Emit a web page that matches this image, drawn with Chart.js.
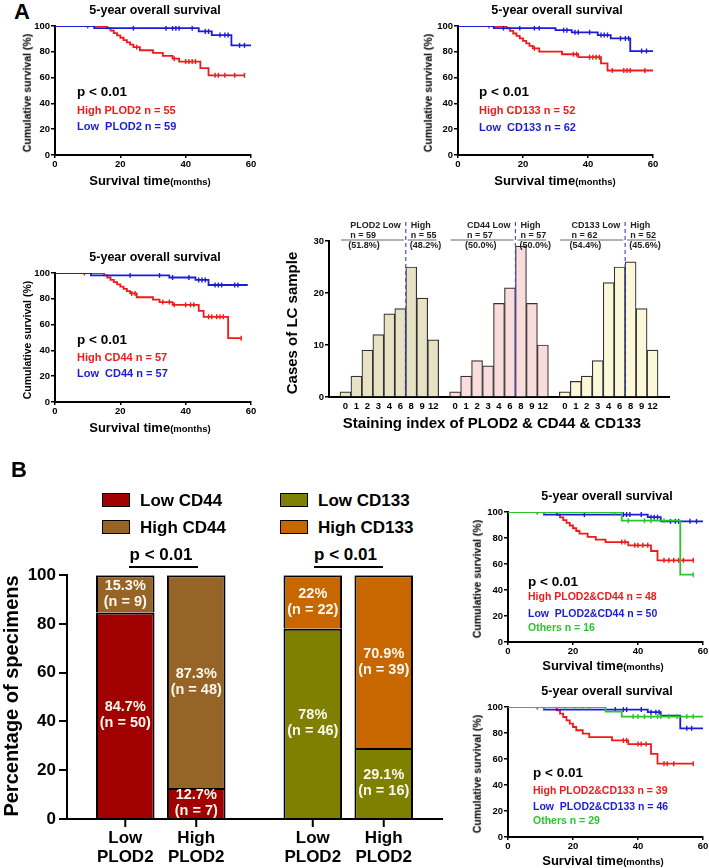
<!DOCTYPE html>
<html>
<head>
<meta charset="utf-8">
<script src="https://cdn.jsdelivr.net/npm/chart.js@4.4.1/dist/chart.umd.min.js"></script>
<style>
  body { margin: 0; background: #fff; }
  #page { position: relative; width: 709px; height: 868px; overflow: hidden; font-family: Arial, "Liberation Sans", sans-serif; }
  canvas { position: absolute; }
  .t { position: absolute; white-space: pre; font-weight: bold; line-height: 1; }
  .box { position: absolute; border: 1.5px solid #000; box-sizing: border-box; }
  .rule { position: absolute; height: 1.5px; background: #000; }
</style>
</head>
<body>
<div id="page"></div>
<script>
// ---- survival curves: event times (months) and survival (%) after each step, censor times
const plod2HighTime = [0, 16, 17, 18, 19, 20, 21, 22, 23, 24, 26, 30, 33, 36, 38, 44.5, 47, 58];
const plod2HighSurv = [100, 98.2, 96.4, 94.5, 92.7, 90.9, 89.1, 87.3, 85.5, 83.6, 81.2, 79.1, 76.9, 74.7, 72.4, 67.3, 61.8, 61.8];
const plod2HighCensor = [10, 25, 36.5, 40, 41, 42, 43, 49, 50, 52, 55, 58];
const plod2LowTime = [0, 12, 44, 48, 54, 60];
const plod2LowSurv = [100, 98.3, 95.8, 93.0, 85.0, 85.0];
const plod2LowCensor = [24, 34, 36, 37, 38, 42, 46, 47, 50.5, 52, 53, 56.5, 58];

const cd133HighTime = [0, 15, 16, 17, 18, 19, 20, 21, 22, 23, 25, 32, 37, 44, 46, 60];
const cd133HighSurv = [100, 98.1, 96.2, 94.2, 92.3, 90.4, 88.5, 86.5, 84.6, 82.7, 80.2, 78.1, 75.8, 71.1, 65.5, 65.5];
const cd133HighCensor = [9.5, 11, 23.5, 35.5, 36.5, 40.5, 41.5, 42.5, 43.5, 47.5, 51, 52, 53, 57.5];
const cd133LowTime = [0, 11, 30, 35, 43, 47, 53, 60];
const cd133LowSurv = [100, 98.4, 96.8, 95.1, 93.0, 90.4, 80.6, 80.6];
const cd133LowCensor = [14, 19, 23.5, 25, 32.5, 33.5, 36, 37, 40.5, 44, 45, 46, 50, 51.5, 52.5, 56.5, 58];

const cd44HighTime = [0, 15, 16, 17, 18, 19, 20, 21, 22, 23, 25, 30, 32, 36, 44, 45.5, 53, 57];
const cd44HighSurv = [100, 98.2, 96.5, 94.7, 93.0, 91.2, 89.5, 87.7, 86.0, 84.2, 81.2, 79.4, 77.5, 75.3, 70.6, 66.0, 49.5, 49.5];
const cd44HighCensor = [9, 11, 23.5, 24.5, 33, 35, 36.5, 40, 41.5, 42.5, 47, 48, 49.5, 50.5, 51.5, 57];
const cd44LowTime = [0, 11, 35, 43, 47, 59];
const cd44LowSurv = [100, 98.2, 96.5, 94.6, 90.7, 90.7];
const cd44LowCensor = [23, 32, 36, 41, 44, 45, 46, 49, 50, 51, 55, 56];

const plod2cd44HighTime = [0, 15, 16, 17, 18, 19, 20, 21, 22, 24.5, 27, 30, 37, 44, 46, 57];
const plod2cd44HighSurv = [100, 97.9, 95.8, 93.8, 91.7, 89.6, 87.5, 85.4, 83.3, 80.8, 78.8, 76.9, 74.4, 70.0, 62.8, 62.8];
const plod2cd44HighCensor = [9, 35, 36, 39, 40, 41.5, 43, 48, 49.5, 51, 52.5, 54, 57];
const plod2cd44LowTime = [0, 11, 43, 47, 60];
const plod2cd44LowSurv = [100, 98, 96, 92.8, 92.8];
const plod2cd44LowCensor = [23.5, 35.5, 36.5, 37.5, 41, 44, 45, 46, 50, 51.5, 52.5, 56, 58];
const plod2cd44OtherTime = [0, 35, 53, 57];
const plod2cd44OtherSurv = [100, 93.3, 51.8, 51.8];
const plod2cd44OtherCensor = [11, 32, 33, 37, 42, 44, 48, 57];

const plod2cd133HighTime = [0, 15, 16, 17, 18, 19, 20, 21, 23, 25, 32, 37, 44, 46, 57];
const plod2cd133HighSurv = [100, 97.4, 94.9, 92.3, 89.7, 87.2, 84.6, 82.1, 79.5, 76.9, 74.3, 71.5, 64.0, 56.4, 56.4];
const plod2cd133HighCensor = [9, 35.5, 36.5, 40, 41, 42.5, 48, 49, 51, 57];
const plod2cd133LowTime = [0, 11, 43, 47, 53, 60];
const plod2cd133LowSurv = [100, 98, 96, 93.4, 83.6, 83.6];
const plod2cd133LowCensor = [33, 35.5, 36.5, 41, 44, 45.5, 46.5, 55, 56.5];
const plod2cd133OtherTime = [0, 30, 35, 60];
const plod2cd133OtherSurv = [100, 96.5, 92.6, 92.6];
const plod2cd133OtherCensor = [11, 17.5, 20.5, 23, 25, 38.5, 40, 42, 44, 46, 47, 49.5, 52, 55, 57];

// ---- staining index histogram
const scoreLabels = ['0', '1', '2', '3', '4', '6', '8', '9', '12'];
const plod2Cases = [1, 4, 9, 12, 16, 17, 25, 19, 11];
const cd44Cases = [1, 4, 7, 6, 18, 21, 29, 18, 10];
const cd133Cases = [1, 3, 4, 7, 22, 25, 26, 17, 9];
const histNames = ['PLOD2', 'CD44', 'CD133'];
const highFrom = 6; // scores 8, 9, 12 count as high

// ---- stacked percentages (Low PLOD2, High PLOD2)
const plod2Levels = ['Low', 'High'];
const lowCD44Pct = [84.7, 12.7];
const highCD44Pct = [15.3, 87.3];
const lowCD44N = [50, 7];
const highCD44N = [9, 48];
const lowCD133Pct = [78, 29.1];
const highCD133Pct = [22, 70.9];
const lowCD133N = [46, 16];
const highCD133N = [22, 39];

const RED = '#ee1b1b', BLUE = '#1c1cd6', GREEN = '#2ec42e';
const FONT = 'Arial, "Liberation Sans", sans-serif';
Chart.defaults.font.family = FONT;
Chart.defaults.color = '#000';

const page = document.getElementById('page');

function addText(html, x, y, o) {
  o = o || {};
  const d = document.createElement('div');
  d.className = 't';
  d.innerHTML = html;
  d.style.left = x + 'px';
  d.style.top = y + 'px';
  d.style.fontSize = (o.size || 11) + 'px';
  d.style.color = o.color || '#000';
  let tr = 'translate(' + (o.align === 'left' ? '0' : '-50%') + ',-50%)';
  if (o.rot) tr += ' rotate(-90deg)';
  d.style.transform = tr;
  page.appendChild(d);
}

function addCanvas(left, top, w, h) {
  const cv = document.createElement('canvas');
  cv.width = w; cv.height = h;
  cv.style.left = left + 'px';
  cv.style.top = top + 'px';
  page.appendChild(cv);
  return cv;
}

function survAt(c, t) {
  let s = c.surv[0];
  c.time.forEach((tt, i) => { if (tt <= t) s = c.surv[i]; });
  return s;
}

// survival chart whose plot area is exactly `area`
function kmChart(area, curves) {
  const padL = 4, yW = 52, padT = 10, padR = 12, padB = 4, xH = 20;
  const cv = addCanvas(area.left - padL - yW, area.top - padT,
    area.right - area.left + padL + yW + padR, area.bottom - area.top + padT + padB + xH);
  const datasets = [];
  curves.forEach((c, k) => {
    datasets.push({
      data: c.time.map((t, i) => ({ x: t, y: c.surv[i] })),
      stepped: 'before', borderColor: c.color, borderWidth: 1.8,
      pointRadius: 0, fill: false, order: curves.length - k
    });
    datasets.push({
      data: c.censor.map(t => ({ x: t, y: survAt(c, t) })),
      showLine: false, pointStyle: 'line', pointRotation: 90, pointRadius: 2.5,
      pointBorderWidth: 1.4, pointBorderColor: c.color, pointBackgroundColor: c.color,
      borderColor: c.color, order: curves.length - k
    });
  });
  const tickFont = { size: 9.5, weight: 'bold', family: FONT };
  new Chart(cv, {
    type: 'line',
    data: { datasets },
    options: {
      responsive: false, animation: false,
      layout: { padding: { left: padL, top: padT, right: padR, bottom: padB } },
      plugins: { legend: { display: false }, tooltip: { enabled: false } },
      scales: {
        x: {
          type: 'linear', min: 0, max: 60,
          ticks: { stepSize: 20, font: tickFont, padding: 1, color: '#000' },
          grid: { drawOnChartArea: false, tickLength: 3, color: '#000', lineWidth: 1.5 },
          border: { color: '#000', width: 2 },
          afterFit: s => { s.height = xH; }
        },
        y: {
          min: 0, max: 100,
          ticks: { stepSize: 20, font: tickFont, padding: 1, color: '#000' },
          grid: { drawOnChartArea: false, tickLength: 4, color: '#000', lineWidth: 1.5 },
          border: { color: '#000', width: 2 },
          afterFit: s => { s.width = yW; }
        }
      }
    }
  });
}

function kmTexts(area, titleX, ytX, legendX, pY, legends, xtX, xtY) {
  addText('5-year overall survival', titleX, area.top - 16, { size: 12.5 });
  addText('Cumulative survival (%)', ytX, (area.top + area.bottom) / 2 + 2, { size: 10.5, rot: true });
  addText('p &lt; 0.01', legendX, pY, { size: 13.5, align: 'left' });
  legends.forEach(l => addText(l.text, legendX, l.y, { size: l.size || 11, color: l.color, align: 'left' }));
  addText('Survival time<span style="font-size:9.5px">(months)</span>', xtX, xtY, { size: 13 });
}

// ---------------- panel A
addText('A', 22, 12, { size: 22 });

const areaA1 = { left: 55, top: 26, right: 251, bottom: 155 };
kmChart(areaA1, [
  { time: plod2HighTime, surv: plod2HighSurv, censor: plod2HighCensor, color: RED },
  { time: plod2LowTime, surv: plod2LowSurv, censor: plod2LowCensor, color: BLUE }
]);
kmTexts(areaA1, 155, 27, 77, 91.5, [
  { text: 'High PLOD2 n = 55', y: 110, color: RED },
  { text: 'Low  PLOD2 n = 59', y: 126, color: BLUE }
], 150, 180);

const areaA2 = { left: 458, top: 26, right: 653, bottom: 155 };
kmChart(areaA2, [
  { time: cd133HighTime, surv: cd133HighSurv, censor: cd133HighCensor, color: RED },
  { time: cd133LowTime, surv: cd133LowSurv, censor: cd133LowCensor, color: BLUE }
]);
kmTexts(areaA2, 557, 428, 479, 91.5, [
  { text: 'High CD133 n = 52', y: 110, color: RED },
  { text: 'Low  CD133 n = 62', y: 126.5, color: BLUE }
], 555, 180);

const areaA3 = { left: 55, top: 273, right: 251, bottom: 402 };
kmChart(areaA3, [
  { time: cd44HighTime, surv: cd44HighSurv, censor: cd44HighCensor, color: RED },
  { time: cd44LowTime, surv: cd44LowSurv, censor: cd44LowCensor, color: BLUE }
]);
kmTexts(areaA3, 155, 27, 77, 340, [
  { text: 'High CD44 n = 57', y: 357, color: RED },
  { text: 'Low  CD44 n = 57', y: 373, color: BLUE }
], 150, 427);

// ---------------- histogram
(function () {
  const area = { left: 329, top: 241, right: 669, bottom: 397 };
  const padL = 4, yW = 26, padT = 22, padR = 6, padB = 4, xH = 16;
  const cv = addCanvas(area.left - padL - yW, area.top - padT,
    area.right - area.left + padL + yW + padR, area.bottom - area.top + padT + padB + xH);
  const groups = [plod2Cases, cd44Cases, cd133Cases];
  const fills = ['#e8e2c5', '#f9dcdc', '#fbf8da'];
  const labels = [''], data = [null], colors = ['#fff'];
  groups.forEach((g, gi) => {
    scoreLabels.forEach((s, i) => { labels.push(s); data.push(g[i]); colors.push(fills[gi]); });
    labels.push(''); data.push(null); colors.push('#fff');
  });
  const sum = a => a.reduce((p, v) => p + v, 0);

  const annot = {
    id: 'annot',
    afterDatasetsDraw(chart) {
      const ctx = chart.ctx, x = chart.scales.x, top = chart.chartArea.top, bottom = chart.chartArea.bottom;
      ctx.save();
      groups.forEach((g, gi) => {
        const s = 1 + gi * (scoreLabels.length + 1);
        const w = x.getPixelForValue(s + 1) - x.getPixelForValue(s);
        const gStart = x.getPixelForValue(s) - w / 2;
        const gEnd = x.getPixelForValue(s + scoreLabels.length - 1) + w / 2;
        const cut = x.getPixelForValue(s + highFrom) - w / 2;
        // dashed cutoff
        ctx.strokeStyle = '#4a4ad8'; ctx.lineWidth = 1.2; ctx.setLineDash([4, 3]);
        ctx.beginPath(); ctx.moveTo(cut, top - 19); ctx.lineTo(cut, bottom); ctx.stroke();
        ctx.setLineDash([]);
        // rule under n
        ctx.strokeStyle = '#666'; ctx.lineWidth = 1;
        ctx.beginPath(); ctx.moveTo(gStart + 1, top - 1); ctx.lineTo(cut - 2, top - 1);
        ctx.moveTo(cut + 2, top - 1); ctx.lineTo(gEnd - 2, top - 1); ctx.stroke();
        // texts
        const total = sum(plod2Cases);
        const lowN = sum(g.slice(0, highFrom)), highN = sum(g.slice(highFrom));
        ctx.fillStyle = '#222'; ctx.font = 'bold 9px ' + FONT; ctx.textBaseline = 'middle'; ctx.textAlign = 'left';
        const lowTitle = histNames[gi] + ' Low';
        const lx = cut - 5 - ctx.measureText(lowTitle).width;
        ctx.fillText(lowTitle, lx, top - 15.3);
        ctx.fillText('n = ' + lowN, lx, top - 5.3);
        ctx.fillText('(' + (lowN / total * 100).toFixed(1) + '%)', lx - 2, top + 4.7);
        ctx.fillText('High', cut + 5, top - 15.3);
        ctx.fillText('n = ' + highN, cut + 5, top - 5.3);
        ctx.fillText('(' + (highN / total * 100).toFixed(1) + '%)', cut + 4, top + 4.7);
      });
      ctx.restore();
    }
  };

  new Chart(cv, {
    type: 'bar',
    data: { labels, datasets: [{ data, backgroundColor: colors, borderColor: '#333', borderWidth: 1.2, barPercentage: 1, categoryPercentage: 1 }] },
    options: {
      responsive: false, animation: false,
      layout: { padding: { left: padL, top: padT, right: padR, bottom: padB } },
      plugins: { legend: { display: false }, tooltip: { enabled: false } },
      scales: {
        x: {
          ticks: { autoSkip: false, maxRotation: 0, font: { size: 9.5, weight: 'bold', family: FONT }, padding: 4, color: '#000' },
          grid: { display: false, drawTicks: false },
          border: { color: '#000', width: 2 },
          afterFit: s => { s.height = xH; }
        },
        y: {
          min: 0, max: 30,
          ticks: { stepSize: 10, font: { size: 9.5, weight: 'bold', family: FONT }, padding: 1, color: '#000' },
          grid: { drawOnChartArea: false, tickLength: 4, color: '#000', lineWidth: 1.5 },
          border: { color: '#000', width: 2 },
          afterFit: s => { s.width = yW; }
        }
      }
    },
    plugins: [annot]
  });
  addText('Cases of LC sample', 291, 323, { size: 15, rot: true });
  addText('Staining index of PLOD2 &amp; CD44 &amp; CD133', 492, 422, { size: 15 });
})();

// ---------------- panel B
addText('B', 19, 470, { size: 22 });

const C_LOW44 = '#a00000', C_HIGH44 = '#966426', C_LOW133 = '#7f7f00', C_HIGH133 = '#c86600';

function legendItem(x, y, color, text) {
  const b = document.createElement('div');
  b.className = 'box';
  b.style.left = x + 'px'; b.style.top = (y - 7) + 'px';
  b.style.width = '28px'; b.style.height = '14px';
  b.style.background = color;
  page.appendChild(b);
  addText(text, x + 38, y, { size: 17, align: 'left' });
}
legendItem(102, 499.5, C_LOW44, 'Low CD44');
legendItem(102, 527, C_HIGH44, 'High CD44');
legendItem(280, 499.5, C_LOW133, 'Low CD133');
legendItem(280, 527, C_HIGH133, 'High CD133');

function pRule(cx, x1, x2) {
  addText('p &lt; 0.01', cx, 554, { size: 17 });
  const r = document.createElement('div');
  r.className = 'rule';
  r.style.left = x1 + 'px'; r.style.top = '566px'; r.style.width = (x2 - x1) + 'px';
  page.appendChild(r);
}
pRule(161, 129, 198);
pRule(345.5, 314, 383);
addText('Percentage of specimens', 11, 696, { size: 20, rot: true });

(function () {
  const area = { left: 67, top: 574, right: 442, bottom: 819 };
  const padL = 4, yW = 60, padT = 12, padR = 10, padB = 4, xH = 45;
  const cv = addCanvas(area.left - padL - yW, area.top - padT,
    area.right - area.left + padL + yW + padR, area.bottom - area.top + padT + padB + xH);
  const datasets = [];
  plod2Levels.forEach((lvl, li) => {
    datasets.push({
      stack: lvl, data: [lowCD44Pct[li], lowCD133Pct[li]], n: [lowCD44N[li], lowCD133N[li]],
      backgroundColor: [C_LOW44, C_LOW133]
    });
    datasets.push({
      stack: lvl, data: [highCD44Pct[li], highCD133Pct[li]], n: [highCD44N[li], highCD133N[li]],
      backgroundColor: [C_HIGH44, C_HIGH133]
    });
  });
  datasets.forEach(d => Object.assign(d, {
    borderColor: '#000', borderWidth: { left: 2, right: 2, top: 2, bottom: 0 }, borderSkipped: false,
    categoryPercentage: 0.757, barPercentage: 0.825
  }));

  const barText = {
    id: 'barText',
    afterDatasetsDraw(chart) {
      const ctx = chart.ctx, bottom = chart.chartArea.bottom;
      ctx.save();
      ctx.textAlign = 'center'; ctx.textBaseline = 'middle';
      chart.data.datasets.forEach((ds, i) => {
        chart.getDatasetMeta(i).data.forEach((el, j) => {
          const p = el.getProps(['x', 'y', 'base'], true);
          const cy = (p.y + p.base) / 2;
          ctx.fillStyle = '#fbf8ee';
          ctx.font = 'bold 14.5px ' + FONT;
          ctx.fillText(ds.data[j] + '%', p.x, cy - 8);
          ctx.fillText('(n = ' + ds.n[j] + ')', p.x, cy + 8);
          if (i % 2 === 0) {
            ctx.strokeStyle = '#000'; ctx.lineWidth = 2;
            ctx.beginPath(); ctx.moveTo(p.x, bottom); ctx.lineTo(p.x, bottom + 8); ctx.stroke();
            ctx.fillStyle = '#000';
            ctx.font = 'bold 17px ' + FONT;
            ctx.fillText(ds.stack, p.x, bottom + 19);
            ctx.fillText('PLOD2', p.x, bottom + 38);
          }
        });
      });
      ctx.restore();
    }
  };

  new Chart(cv, {
    type: 'bar',
    data: { labels: ['CD44', 'CD133'], datasets },
    options: {
      responsive: false, animation: false,
      layout: { padding: { left: padL, top: padT, right: padR, bottom: padB } },
      plugins: { legend: { display: false }, tooltip: { enabled: false } },
      scales: {
        x: {
          stacked: true,
          ticks: { display: false },
          grid: { display: false },
          border: { color: '#000', width: 2 },
          afterFit: s => { s.height = xH; }
        },
        y: {
          stacked: true, min: 0, max: 100,
          ticks: { stepSize: 20, font: { size: 17, weight: 'bold', family: FONT }, padding: 3, color: '#000' },
          grid: { drawOnChartArea: false, tickLength: 8, color: '#000', lineWidth: 2 },
          border: { color: '#000', width: 2 },
          afterFit: s => { s.width = yW; }
        }
      }
    },
    plugins: [barText]
  });
})();

const areaB1 = { left: 508, top: 512, right: 703, bottom: 642 };
kmChart(areaB1, [
  { time: plod2cd44HighTime, surv: plod2cd44HighSurv, censor: plod2cd44HighCensor, color: RED },
  { time: plod2cd44LowTime, surv: plod2cd44LowSurv, censor: plod2cd44LowCensor, color: BLUE },
  { time: plod2cd44OtherTime, surv: plod2cd44OtherSurv, censor: plod2cd44OtherCensor, color: GREEN }
]);
kmTexts(areaB1, 607, 477, 528, 582, [
  { text: 'High PLOD2&amp;CD44 n = 48', y: 596, color: RED, size: 10.5 },
  { text: 'Low  PLOD2&amp;CD44 n = 50', y: 612.5, color: BLUE, size: 10.5 },
  { text: 'Others n = 16', y: 626.5, color: GREEN, size: 10.5 }
], 603, 665);

const areaB2 = { left: 508, top: 707, right: 703, bottom: 837 };
kmChart(areaB2, [
  { time: plod2cd133HighTime, surv: plod2cd133HighSurv, censor: plod2cd133HighCensor, color: RED },
  { time: plod2cd133LowTime, surv: plod2cd133LowSurv, censor: plod2cd133LowCensor, color: BLUE },
  { time: plod2cd133OtherTime, surv: plod2cd133OtherSurv, censor: plod2cd133OtherCensor, color: GREEN }
]);
kmTexts(areaB2, 607, 477, 533, 773, [
  { text: 'High PLOD2&amp;CD133 n = 39', y: 790, color: RED, size: 10.5 },
  { text: 'Low  PLOD2&amp;CD133 n = 46', y: 806, color: BLUE, size: 10.5 },
  { text: 'Others n = 29', y: 820, color: GREEN, size: 10.5 }
], 603, 860);
</script>
</body>
</html>
